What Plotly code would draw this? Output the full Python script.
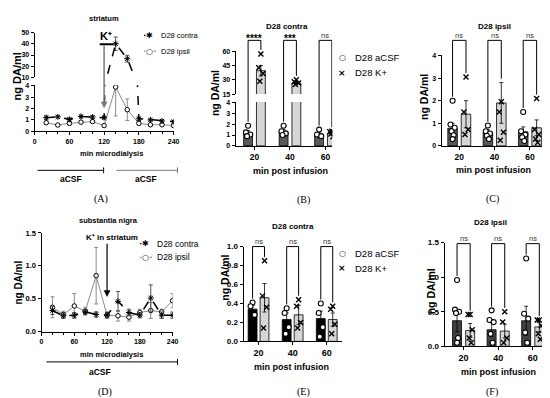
import plotly.graph_objects as go

W, H = 550, 398
def X(px): return px / W
def Y(py): return 1 - py / H

FONT = "Liberation Sans, Arial, sans-serif"
SERIF = "Liberation Serif, Times New Roman, serif"

# ---------------- data ----------------
time_min = [20, 40, 60, 80, 100, 120, 140, 160, 180, 200, 220, 240]
time_ticks = [0, 60, 120, 180, 240]

# (A) striatum, microdialysis time course
str_contra = [1.2, 1.27, 1.05, 1.3, 1.25, 1.2, 40, 26.7, 1.1, 1.0, 0.9, 0.85]
str_contra_err = [0.15, 0.1, 0.12, 0.12, 0.12, 0.12, 6, 3, 0.15, 0.1, 0.1, 0.1]
str_ipsil = [0.75, 0.55, 0.7, 0.8, 0.85, 0.5, 3.9, 1.9, 0.7, 0.57, 0.57, 0.5]
str_ipsil_err = [0.12, 0.08, 0.15, 0.1, 0.1, 0.08, 2.55, 0.95, 0.15, 0.08, 0.08, 0.08]

# (D) substantia nigra, microdialysis time course
sn_contra = [0.32, 0.24, 0.25, 0.30, 0.26, 0.25, 0.46, 0.29, 0.25, 0.51, 0.25, 0.25]
sn_contra_err = [0.06, 0.04, 0.04, 0.04, 0.04, 0.04, 0.15, 0.05, 0.04, 0.2, 0.05, 0.05]
sn_ipsil = [0.37, 0.26, 0.39, 0.31, 0.85, 0.25, 0.24, 0.22, 0.29, 0.32, 0.30, 0.47]
sn_ipsil_err = [0.16, 0.05, 0.19, 0.06, 0.43, 0.05, 0.08, 0.06, 0.05, 0.12, 0.04, 0.11]

post_min = ["20", "40", "60"]

# (B) striatum contra
strC_acsf = [1.2, 1.3, 1.0]
strC_acsf_err = [0.2, 0.2, 0.2]
strC_k = [39.5, 26.5, 1.15]
strC_k_err = [5.5, 1.2, 0.12]
strC_acsf_pts = [[1.85, 1.25, 1.05, 0.9], [1.85, 1.35, 1.15, 1.0], [1.5, 1.05, 0.9]]
strC_k_pts = [[57, 42.5, 36.5, 28.5], [30, 28, 26.5, 25], [1.35, 1.3, 1.2, 1.1, 0.85]]
strC_sig = ["****", "***", "ns"]

# (C) striatum ipsil
strI_acsf = [0.78, 0.6, 0.62]
strI_acsf_err = [0.22, 0.12, 0.22]
strI_k = [1.4, 1.9, 0.8]
strI_k_err = [0.6, 0.9, 0.35]
strI_acsf_pts = [[2.0, 0.95, 0.8, 0.65, 0.47, 0.3], [0.9, 0.65, 0.55, 0.45, 0.3], [1.5, 0.65, 0.5, 0.38, 0.22]]
strI_k_pts = [[3.05, 1.5, 0.73, 0.5], [1.95, 1.5, 0.6, 0.25], [2.1, 0.73, 0.5, 0.3, 0.15]]
strI_sig = ["ns", "ns", "ns"]

# (E) substantia nigra contra
snC_acsf = [0.34, 0.23, 0.24]
snC_acsf_err = [0.04, 0.07, 0.08]
snC_k = [0.46, 0.28, 0.23]
snC_k_err = [0.15, 0.10, 0.07]
snC_acsf_pts = [[0.41, 0.37, 0.28], [0.35, 0.30, 0.15, 0.08], [0.40, 0.30, 0.15, 0.05]]
snC_k_pts = [[0.85, 0.48, 0.36, 0.14], [0.44, 0.37, 0.20, 0.14], [0.37, 0.34, 0.18, 0.08]]
snC_sig = ["ns", "ns", "ns"]

# (F) substantia nigra ipsil
snI_acsf = [0.37, 0.24, 0.37]
snI_acsf_err = [0.16, 0.10, 0.21]
snI_k = [0.23, 0.22, 0.28]
snI_k_err = [0.10, 0.10, 0.07]
snI_acsf_pts = [[0.96, 0.53, 0.50, 0.48, 0.12, 0.05], [0.52, 0.38, 0.35, 0.18, 0.05], [1.27, 0.47, 0.40, 0.20, 0.05]]
snI_k_pts = [[0.46, 0.46, 0.24, 0.12, 0.05], [0.50, 0.35, 0.12, 0.05], [0.38, 0.38, 0.30, 0.18, 0.10]]
snI_sig = ["ns", "ns", "ns"]

# ---------------- styling helpers ----------------
def tf(size=7, weight="bold"):
    return dict(family=FONT, size=size, color="black", weight=weight)

def ax(**kw):
    d = dict(showline=True, linecolor="black", linewidth=1, ticks="outside", ticklen=3,
             tickwidth=1, tickcolor="black", showgrid=False, zeroline=False,
             tickfont=tf(7), fixedrange=True)
    d.update(kw)
    return d

fig = go.Figure()
annotations = []
shapes = []

def text(px, py, s, size=8, weight="bold", family=FONT, xanchor="center", color="black", angle=0, **kw):
    annotations.append(dict(x=X(px), y=Y(py), xref="paper", yref="paper", text=s, showarrow=False,
                            xanchor=xanchor, yanchor="middle", textangle=angle,
                            font=dict(family=family, size=size, weight=weight, color=color), **kw))

def pline(x0, y0, x1, y1, color="black", width=1, dash="solid"):
    shapes.append(dict(type="line", xref="paper", yref="paper", x0=X(x0), y0=Y(y0), x1=X(x1), y1=Y(y1),
                       line=dict(color=color, width=width, dash=dash)))

def arrow_down(xval, xref, y_top_px, y_tip_px, color, width):
    # vertical arrow at a data x position, drawn with shapes
    shapes.append(dict(type="line", xref=xref, yref="paper", x0=xval, x1=xval,
                       y0=Y(y_top_px), y1=Y(y_tip_px - 5), line=dict(color=color, width=width)))
    shapes.append(dict(type="path", xref=xref, yref="paper", xsizemode="pixel", xanchor=xval,
                       path=f"M -3,{Y(y_tip_px - 6)} L 3,{Y(y_tip_px - 6)} L 0,{Y(y_tip_px)} Z",
                       fillcolor=color, line=dict(color=color, width=0.5)))

# ---------------- geometry (pixels) ----------------
A_x = (25, 166); A_lo = (75, 122); A_hi = (21, 67)
B_x = (229, 327); B_lo = (92, 137); B_hi = (40, 84)
C_x = (438, 543); C_y = (44, 137)
D_x = (32, 165); D_y = (226, 327)
E_x = (237, 337); E_y = (240, 337)
F_x = (441, 548); F_y = (236, 342)

def dom_x(p): return [X(p[0]), X(p[1])]
def dom_y(p): return [Y(p[1]), Y(p[0])]

layout_axes = {}

# A
layout_axes["xaxis"] = ax(domain=dom_x(A_x), range=[0, 240], anchor="y", tickvals=time_ticks,
                          minor=dict(dtick=20, ticklen=2, ticks="outside", tickcolor="black"))
layout_axes["yaxis"] = ax(domain=dom_y(A_lo), range=[0, 4.05], anchor="x", tickvals=[0, 1, 2, 3, 4])
layout_axes["xaxis2"] = dict(domain=dom_x(A_x), range=[0, 240], anchor="y2", visible=False, fixedrange=True)
layout_axes["yaxis2"] = ax(domain=dom_y(A_hi), range=[10, 50], anchor="x2", tickvals=[10, 20, 30, 40, 50])
# B
B_rng = [-0.53, 2.19]
layout_axes["xaxis3"] = ax(domain=dom_x(B_x), range=B_rng, anchor="y3", tickvals=[0, 1, 2], ticktext=post_min,
                           tickfont=tf(8.5))
layout_axes["yaxis3"] = ax(domain=dom_y(B_lo), range=[0, 4.05], anchor="x3", tickvals=[0, 1, 2, 3, 4])
layout_axes["xaxis4"] = dict(domain=dom_x(B_x), range=B_rng, anchor="y4", visible=False, fixedrange=True)
layout_axes["yaxis4"] = ax(domain=dom_y(B_hi), range=[15, 60], anchor="x4", tickvals=[15, 30, 45, 60])
# C
C_rng = [-0.5, 2.43]
layout_axes["xaxis5"] = ax(domain=dom_x(C_x), range=C_rng, anchor="y5", tickvals=[0, 1, 2], ticktext=post_min,
                           tickfont=tf(8.5))
layout_axes["yaxis5"] = ax(domain=dom_y(C_y), range=[0, 4.02], anchor="x5", tickvals=[0, 1, 2, 3, 4])
# D
layout_axes["xaxis6"] = ax(domain=dom_x(D_x), range=[0, 240], anchor="y6", tickvals=time_ticks,
                           minor=dict(dtick=20, ticklen=2, ticks="outside", tickcolor="black"))
layout_axes["yaxis6"] = ax(domain=dom_y(D_y), range=[0, 1.5], anchor="x6", tickvals=[0, 0.5, 1.0, 1.5],
                           tickformat=".1f", tickfont=tf(7.5))
# E
E_rng = [-0.44, 2.45]
layout_axes["xaxis7"] = ax(domain=dom_x(E_x), range=E_rng, anchor="y7", tickvals=[0, 1, 2], ticktext=post_min,
                           tickfont=tf(9))
layout_axes["yaxis7"] = ax(domain=dom_y(E_y), range=[0, 1.0], anchor="x7",
                           tickvals=[0, 0.2, 0.4, 0.6, 0.8, 1.0], tickformat=".1f", tickfont=tf(8))
# F
F_rng = [-0.55, 2.5]
layout_axes["xaxis8"] = ax(domain=dom_x(F_x), range=F_rng, anchor="y8", tickvals=[0, 1, 2], ticktext=post_min,
                           tickfont=tf(9))
layout_axes["yaxis8"] = ax(domain=dom_y(F_y), range=[0, 1.5], anchor="x8", tickvals=[0, 0.5, 1.0, 1.5],
                           tickformat=".1f", tickfont=tf(8))

# ---------------- line panels ----------------
def add_course(contra, cerr, ipsil, ierr, pairs):
    for xa, ya in pairs:
        fig.add_trace(go.Scatter(x=time_min, y=ipsil, mode="lines+markers", xaxis=xa, yaxis=ya,
                                 line=dict(color="#8a8a8a", width=1),
                                 marker=dict(symbol="circle", size=4.5, color="white",
                                             line=dict(color="black", width=1)),
                                 error_y=dict(type="data", array=ierr, color="#8a8a8a", thickness=1, width=2),
                                 showlegend=False))
        fig.add_trace(go.Scatter(x=time_min, y=contra, mode="lines+markers", xaxis=xa, yaxis=ya,
                                 line=dict(color="black", width=1.5, dash="dash"),
                                 marker=dict(symbol="asterisk-open", size=5, color="black",
                                             line=dict(color="black", width=1)),
                                 error_y=dict(type="data", array=cerr, color="#555555", thickness=1, width=2),
                                 showlegend=False))

add_course(str_contra, str_contra_err, str_ipsil, str_ipsil_err, [("x", "y"), ("x2", "y2")])
add_course(sn_contra, sn_contra_err, sn_ipsil, sn_ipsil_err, [("x6", "y6")])

# ---------------- bar panels ----------------
SPREAD = [0, -0.06, 0.06, -0.03, 0.03, 0]

def vpx(v, segs):
    for (lo, hi), (top, bot) in segs:
        if lo <= v <= hi:
            return bot - (v - lo) / (hi - lo) * (bot - top)
    return segs[-1][1][0]

def add_bars(acsf, aerr, kk, kerr, apts, kpts, pairs, off, w, acol, kcol, segs, xa_b, top_px, sig):
    xs_a = [i - off for i in range(len(acsf))]
    xs_k = [i + off for i in range(len(kk))]
    for xa, ya in pairs:
        fig.add_trace(go.Bar(x=xs_a, y=acsf, width=w, xaxis=xa, yaxis=ya,
                             marker=dict(color=acol, line=dict(color="black", width=0.8)),
                             error_y=dict(type="data", array=aerr, color="black", thickness=0.8, width=2),
                             showlegend=False))
        fig.add_trace(go.Bar(x=xs_k, y=kk, width=w, xaxis=xa, yaxis=ya,
                             marker=dict(color=kcol, line=dict(color="black", width=0.8)),
                             error_y=dict(type="data", array=kerr, color="black", thickness=0.8, width=2),
                             showlegend=False))
        px_a, py_a, px_k, py_k = [], [], [], []
        for i, pts in enumerate(apts):
            for j, v in enumerate(pts):
                px_a.append(xs_a[i] + SPREAD[j % len(SPREAD)]); py_a.append(v)
        for i, pts in enumerate(kpts):
            for j, v in enumerate(pts):
                px_k.append(xs_k[i] + SPREAD[j % len(SPREAD)]); py_k.append(v)
        fig.add_trace(go.Scatter(x=px_a, y=py_a, mode="markers", xaxis=xa, yaxis=ya,
                                 marker=dict(symbol="circle", size=5, color="white",
                                             line=dict(color="black", width=1.1)), showlegend=False))
        fig.add_trace(go.Scatter(x=px_k, y=py_k, mode="markers", xaxis=xa, yaxis=ya,
                                 marker=dict(symbol="x-thin", size=5, color="black",
                                             line=dict(color="black", width=1.4)), showlegend=False))
    # significance brackets
    for i in range(len(acsf)):
        ml = max(max(apts[i]), acsf[i] + aerr[i])
        mr = max(max(kpts[i]), kk[i] + kerr[i])
        yl = Y(vpx(ml, segs) - 4)
        yr = Y(vpx(mr, segs) - 4)
        yt = Y(top_px)
        xl, xr = xs_a[i], xs_k[i]
        shapes.append(dict(type="path", xref=xa_b, yref="paper",
                           path=f"M {xl},{yl} L {xl},{yt} L {xr},{yt} L {xr},{yr}",
                           line=dict(color="black", width=1)))
        if sig[i] == "ns":
            annotations.append(dict(x=i, y=Y(top_px - 5), xref=xa_b, yref="paper", text="ns", showarrow=False,
                                    xanchor="center", yanchor="middle",
                                    font=dict(family=FONT, size=7.5, color="#333333")))
        else:
            annotations.append(dict(x=i, y=Y(top_px - 2), xref=xa_b, yref="paper", text=sig[i], showarrow=False,
                                    xanchor="center", yanchor="middle",
                                    font=dict(family=FONT, size=10, weight="bold", color="black")))

add_bars(strC_acsf, strC_acsf_err, strC_k, strC_k_err, strC_acsf_pts, strC_k_pts,
         [("x3", "y3"), ("x4", "y4")], 0.18, 0.25, "#5a5a5a", "#d6d6d6",
         [((0, 4.05), (B_lo[0] - 0.5, B_lo[1])), ((15, 60), B_hi)], "x3", 29, strC_sig)
add_bars(strI_acsf, strI_acsf_err, strI_k, strI_k_err, strI_acsf_pts, strI_k_pts,
         [("x5", "y5")], 0.19, 0.27, "#5a5a5a", "#d6d6d6",
         [((0, 4.02), C_y)], "x5", 29, strI_sig)
add_bars(snC_acsf, snC_acsf_err, snC_k, snC_k_err, snC_acsf_pts, snC_k_pts,
         [("x7", "y7")], 0.175, 0.26, "#000000", "#d6d6d6",
         [((0, 1.0), E_y)], "x7", 240, snC_sig)
add_bars(snI_acsf, snI_acsf_err, snI_k, snI_k_err, snI_acsf_pts, snI_k_pts,
         [("x8", "y8")], 0.19, 0.26, "#404040", "#d6d6d6",
         [((0, 1.5), F_y)], "x8", 237, snI_sig)

# ---------------- texts ----------------
# titles
text(95, 7, "striatum", 7.5)
text(281, 15, "D28 contra", 8)
text(492, 15, "D28 ipsil", 8)
text(100, 213, "substantia nigra", 7.5)
text(287, 219, "D28 contra", 8)
text(488, 215, "D28 ipsil", 8)

# y labels
text(7, 66, "ng DA/ml", 11, angle=-90)
text(208, 83, "ng DA/ml", 10.5, angle=-90)
text(420, 87, "ng DA/ml", 10.5, angle=-90)
text(9, 277, "ng DA/ml", 10, angle=-90)
text(218, 272, "ng DA/ml", 10.5, angle=-90)
text(427, 286, "ng DA/ml", 10.5, angle=-90)

# x labels
text(103, 145, "min microdialysis", 7.5)
text(285, 163, "min post infusion", 9)
text(491, 162, "min post infusion", 9)
text(103, 350, "min microdialysis", 7.5)
text(286, 363, "min post infusion", 9)
text(496, 368, "min post infusion", 9)

# treatment timelines
pline(28, 162, 95, 162); pline(95, 159, 95, 165)
pline(108, 162, 170, 162, color="#777777"); pline(170, 159, 170, 165, color="#777777")
text(62, 171, "aCSF", 8.5)
text(138, 171, "aCSF", 8.5)
pline(37, 358, 170, 358); pline(170, 355, 170, 361)
text(91, 368, "aCSF", 8.5)

# panel letters
for px, py, s in [(92, 191, "(A)"), (298, 192, "(B)"), (490, 191, "(C)"),
                  (96, 389, "(D)"), (298, 389, "(E)"), (489, 389, "(F)")]:
    text(px, py, s, 10, weight="normal", family=SERIF)

# K+ stimulus markers
text(97, 25, "K⁺", 11)
pline(91, 33, 105, 33, width=2)
arrow_down(120, "x", 34, 98, "#7a7a7a", 1.5)
text(104, 231, "K⁺ in striatum", 8)
arrow_down(120, "x6", 237, 291, "black", 1.2)

# legends (line panels)
def line_legend(px, py, glyph, label, lcolor, dash, size):
    pline(px - 6, py, px + 6, py, color=lcolor, width=1.2, dash=dash)
    text(px, py, glyph, 8, weight="normal", family="DejaVu Sans", bgcolor="white", borderpad=0)
    text(px + 9, py, label, size, weight="normal", xanchor="left")

line_legend(142, 24, "✱", "D28 contra", "black", "dot", 7.5)
line_legend(142, 40, "○", "D28 ipsil", "#8a8a8a", "solid", 7.5)
line_legend(138, 237, "✱", "D28 contra", "black", "dot", 8.5)
line_legend(138, 251, "○", "D28 ipsil", "#8a8a8a", "solid", 8.5)

# legends (bar panels)
for px, py in [(337, 47), (337, 247)]:
    text(px, py, "○", 8, weight="bold", family="DejaVu Sans")
    text(px + 11, py, "D28 aCSF", 9.5, weight="normal", xanchor="left")
    text(px, py + 15, "×", 9, weight="bold", family="DejaVu Sans")
    text(px + 11, py + 15, "D28 K+", 9.5, weight="normal", xanchor="left")

fig.update_layout(width=W, height=H, margin=dict(l=0, r=0, t=0, b=0), paper_bgcolor="white",
                  plot_bgcolor="rgba(0,0,0,0)", barmode="overlay", showlegend=False,
                  annotations=annotations, shapes=shapes, **layout_axes)

fig.write_html("out.html")
